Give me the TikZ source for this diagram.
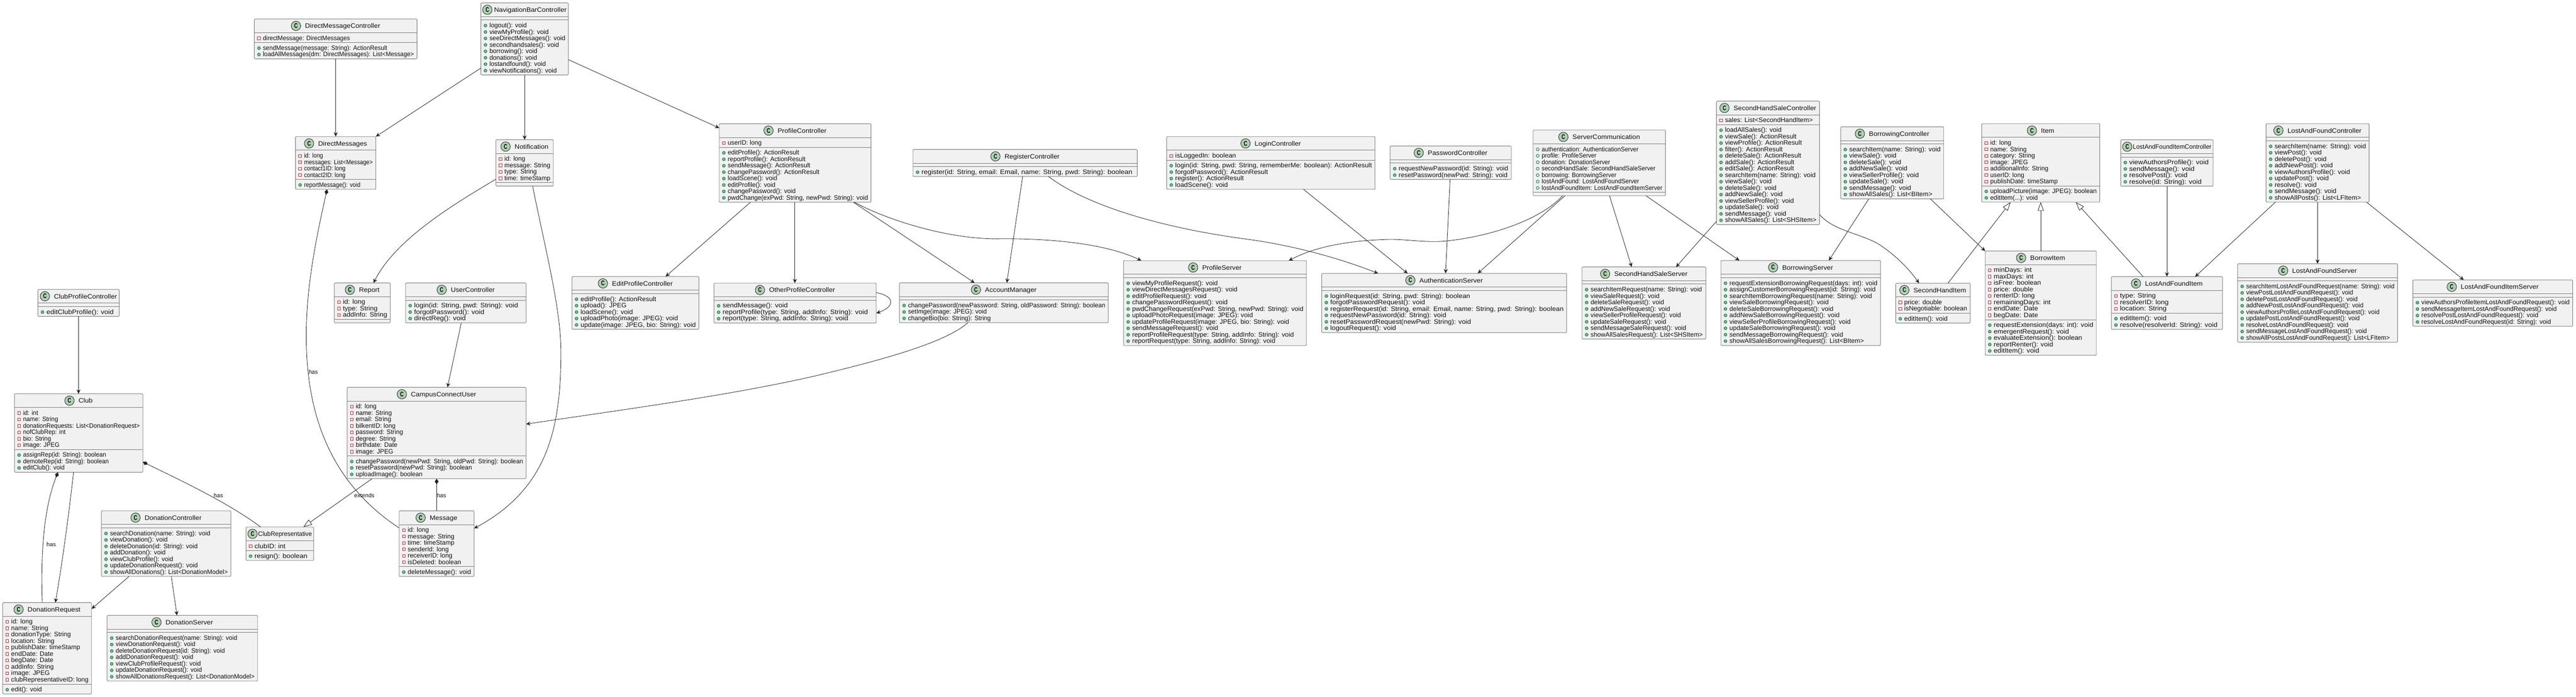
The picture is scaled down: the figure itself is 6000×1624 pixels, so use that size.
\documentclass[tikz,border=0pt]{standalone}
\usepackage{fontspec}
\usepackage{graphicx}
\setmainfont{Liberation Sans}
\usetikzlibrary{arrows.meta,calc}
\newcount\nA \newcount\nM \newcount\cA \newcount\cM
\newdimen\maxw
\newsavebox\tb
\newcommand\memf{\fontsize{7.5pt}{7.5pt}\selectfont}
\newcommand\meas[1]{\sbox\tb{\pgfinterruptpicture\memf #1\endpgfinterruptpicture}}
\newcommand\measA[1]{\advance\nA by 1 \meas{#1}\ifdim\wd\tb>\maxw\maxw=\wd\tb\fi}
\newcommand\measM[1]{\advance\nM by 1 \meas{#1}\ifdim\wd\tb>\maxw\maxw=\wd\tb\fi}
\newcommand\drawA[1]{\advance\cA by 1 \pgfmathsetmacro\yc{\yA+12.9+15*(\the\cA-1)}%
  \node[attric] (\curid-a\the\cA) at (\curx+10.7,\yc) {};%
  \node[memtxt] (\curid-at\the\cA) at (\curx+20,\yc+4.6) {\scalebox{\mS}[1]{#1}};}
\newcommand\drawM[1]{\advance\cM by 1 \pgfmathsetmacro\yc{\yM+12.9+15*(\the\cM-1)}%
  \node[pubm] (\curid-m\the\cM) at (\curx+10.7,\yc) {};%
  \node[memtxt] (\curid-mt\the\cM) at (\curx+20,\yc+4.6) {\scalebox{\mS}[1]{#1}};}
% [attr icon]{id}{x0}{x1}{y0}{title}{attrs}{methods}
\newcommand\umlc[8][privf]{%
  \nA=0 \nM=0 \cA=0 \cM=0 \maxw=0pt
  \let\Fa\measA \let\Fm\measM #7#8%
  \edef\mwd{\the\maxw}%
  \def\curid{#2}\def\curx{#3}%
  \tikzset{attric/.style={#1}}%
  \pgfmathsetmacro\bW{#4-#3}%
  \pgfmathsetmacro\hA{\the\nA*15+8}%
  \pgfmathsetmacro\hM{\the\nM*15+8}%
  \pgfmathsetmacro\bH{32+\hA+\hM}%
  \pgfmathsetmacro\cx{(#3+#4)/2}%
  \pgfmathsetmacro\cy{#5+\bH/2}%
  \pgfmathsetmacro\yA{#5+32}%
  \pgfmathsetmacro\yM{#5+32+\hA}%
  \pgfmathsetmacro\sB{32+\hA}%
  \pgfmathsetmacro\mS{min(1.08,(\bW-27)*0.5/\mwd)}%
  \node[cbox,minimum width=\bW*0.5pt,minimum height=\bH*0.5pt] (#2) at (\cx,\cy) {};%
  \draw[sepl] ([shift={(0,32)}]#2.north west) -- ([shift={(0,32)}]#2.north east);%
  \draw[sepl] ([shift={(0,\sB)}]#2.north west) -- ([shift={(0,\sB)}]#2.north east);%
  \meas{#6}\edef\twd{\the\wd\tb}%
  \pgfmathsetmacro\tw{\twd*2}%
  \pgfmathsetmacro\tS{min(1.06,(\bW-8-22.4-2)/\tw)}%
  \pgfmathsetmacro\tWs{\tw*\tS}%
  \pgfmathsetmacro\tg{max(2,min(10,\bW-8-22.4-\tWs))}%
  \pgfmathsetmacro\blk{22.4+\tg+\tWs}%
  \pgfmathsetmacro\ccx{\cx-\blk/2+11.2}%
  \node[circ] (#2-c) at (\ccx,#5+16) {\scalebox{.72}[1]{C}};%
  \node[memtxt] (#2-t) at (\ccx+11.2+\tg,#5+21.5) {\scalebox{\tS}[1]{#6}};%
  \let\Fa\drawA \let\Fm\drawM #7#8%
}
\tikzset{
  cbox/.style={draw=boxline,fill=boxfill,line width=0.55pt,rounded corners=1.25pt,inner sep=0pt,outer sep=0pt},
  sepl/.style={draw=boxline,line width=0.55pt},
  memtxt/.style={anchor=base west,inner sep=0pt,outer sep=0pt,font=\memf,text=txtc},
  circ/.style={circle,draw=lnk,fill=circf,line width=0.5pt,minimum size=11pt,inner sep=0pt,font=\fontsize{7.8pt}{7.8pt}\bfseries\selectfont},
  privf/.style={rectangle,draw=privc,fill=white,line width=0.55pt,minimum size=3.2pt,inner sep=0pt},
  pubf/.style={circle,draw=pubc,fill=boxfill,line width=0.55pt,minimum size=3.4pt,inner sep=0pt},
  pubm/.style={circle,draw=pubc,fill=pubfc,line width=0.55pt,minimum size=3.4pt,inner sep=0pt},
  conn/.style={draw=lnk,line width=0.5pt},
  dep/.style={conn,-{Stealth[length=5pt,width=4.6pt,inset=1.6pt]}},
  comp/.style={conn,{Diamond[length=6.5pt,width=4.4pt]}-},
  ext/.style={conn,-{Triangle[length=10pt,width=7pt,fill=white]}},
  lbl/.style={inner sep=0pt,font=\fontsize{6.7pt}{6.7pt}\selectfont,text=txtc},
}
\definecolor{boxline}{HTML}{7A7A7A}
\definecolor{boxfill}{HTML}{F1F1F1}
\definecolor{lnk}{HTML}{222222}
\definecolor{circf}{HTML}{ADD1B2}
\definecolor{txtc}{HTML}{111111}
\definecolor{privc}{HTML}{C82930}
\definecolor{pubc}{HTML}{038048}
\definecolor{pubfc}{HTML}{84BE84}
\begin{document}
\begin{tikzpicture}[x=0.5pt,y=-0.5pt]
\useasboundingbox (0,0) rectangle (6000,1624);

\umlc{ClubPC}{88.3}{277.6}{674.6}{ClubProfileController}{}{\Fm{editClubProfile(): void}}
\umlc{Club}{33.7}{332.7}{917.9}{Club}{\Fa{id: int}\Fa{name: String}\Fa{donationRequests: List<DonationRequest>}\Fa{nofClubRep: int}\Fa{bio: String}\Fa{image: JPEG}}{\Fm{assignRep(id: String): boolean}\Fm{demoteRep(id: String): boolean}\Fm{editClub(): void}}
\umlc{DC}{236.2}{537.8}{1190.7}{DonationController}{}{\Fm{searchDonation(name: String): void}\Fm{viewDonation(): void}\Fm{deleteDonation(id: String): void}\Fm{addDonation(): void}\Fm{viewClubProfile(): void}\Fm{updateDonationRequest(): void}\Fm{showAllDonations(): List<DonationModel>}}
\umlc{CR}{573}{730.6}{1228.5}{ClubRepresentative}{\Fa{clubID: int}}{\Fm{resign(): boolean}}
\umlc{DR}{6.1}{213.3}{1404.8}{DonationRequest}{\Fa{id: long}\Fa{name: String}\Fa{donationType: String}\Fa{location: String}\Fa{publishDate: timeStamp}\Fa{endDate: Date}\Fa{begDate: Date}\Fa{addInfo: String}\Fa{image: JPEG}\Fa{clubRepresentativeID: long}}{\Fm{edit(): void}}
\umlc{DS}{249.5}{600}{1434.6}{DonationServer}{}{\Fm{searchDonationRequest(name: String): void}\Fm{viewDonationRequest(): void}\Fm{deleteDonationRequest(id: String): void}\Fm{addDonationRequest(): void}\Fm{viewClubProfileRequest(): void}\Fm{updateDonationRequest(): void}\Fm{showAllDonationsRequest(): List<DonationModel>}}
\umlc{DMC}{592.4}{971.3}{44.3}{DirectMessageController}{\Fa{directMessage: DirectMessages}}{\Fm{sendMessage(message: String): ActionResult}\Fm{loadAllMessages(dm: DirectMessages): List<Message>}}
\umlc{NB}{1120}{1323.8}{6.7}{NavigationBarController}{}{\Fm{logout(): void}\Fm{viewMyProfile(): void}\Fm{seeDirectMessages(): void}\Fm{secondhandsales(): void}\Fm{borrowing(): void}\Fm{donations(): void}\Fm{lostandfound(): void}\Fm{viewNotifications(): void}}
\umlc{DM}{688.3}{875.4}{318.3}{DirectMessages}{\Fa{id: long}\Fa{messages: List<Message>}\Fa{contact1ID: long}\Fa{contact2ID: long}}{\Fm{reportMessage(): void}}
\umlc{Not}{1155}{1288.8}{325.7}{Notification}{\Fa{id: long}\Fa{message: String}\Fa{type: String}\Fa{time: timeStamp}}{}
\umlc{Rep}{778.6}{909}{659.6}{Report}{\Fa{id: long}\Fa{type: String}\Fa{addInfo: String}}{}
\umlc{UC}{944.7}{1225.4}{659.6}{UserController}{}{\Fm{login(id: String, pwd: String): void}\Fm{forgotPassword(): void}\Fm{directReg(): void}}
\umlc{EPC}{1332.2}{1627.8}{644.6}{EditProfileController}{}{\Fm{editProfile(): ActionResult}\Fm{upload(): JPEG}\Fm{loadScene(): void}\Fm{uploadPhoto(image: JPEG): void}\Fm{update(image: JPEG, bio: String): void}}
\umlc{CCU}{808.6}{1225.4}{902.9}{CampusConnectUser}{\Fa{id: long}\Fa{name: String}\Fa{email: String}\Fa{bilkentID: long}\Fa{password: String}\Fa{degree: String}\Fa{birthdate: Date}\Fa{image: JPEG}}{\Fm{changePassword(newPwd: String, oldPwd: String): boolean}\Fm{resetPassword(newPwd: String): boolean}\Fm{uploadImage(): boolean}}
\umlc{Msg}{929.7}{1104.2}{1190.8}{Message}{\Fa{id: long}\Fa{message: String}\Fa{time: timeStamp}\Fa{senderId: long}\Fa{receiverID: long}\Fa{isDeleted: boolean}}{\Fm{deleteMessage(): void}}
\umlc{PC}{1675.2}{2028.8}{288.4}{ProfileController}{\Fa{userID: long}}{\Fm{editProfile(): ActionResult}\Fm{reportProfile(): ActionResult}\Fm{sendMessage(): ActionResult}\Fm{changePassword(): ActionResult}\Fm{loadScene(): void}\Fm{editProfile(): void}\Fm{changePassword(): void}\Fm{pwdChange(exPwd: String, newPwd: String): void}}
\umlc{RC}{2126.4}{2648.8}{348.5}{RegisterController}{}{\Fm{register(id: String, email: Email, name: String, pwd: String): boolean}}
\umlc{OPC}{1663.1}{2040.9}{660}{OtherProfileController}{}{\Fm{sendMessage(): void}\Fm{reportProfile(type: String, addInfo: String): void}\Fm{report(type: String, addInfo: String): void}}
\umlc{AM}{2095.1}{2581.4}{659.3}{AccountManager}{}{\Fm{changePassword(newPassword: String, oldPassword: String): boolean}\Fm{setImge(image: JPEG): void}\Fm{changeBio(bio: String): String}}
\umlc{PS}{2617}{3042.9}{607.5}{ProfileServer}{}{\Fm{viewMyProfileRequest(): void}\Fm{viewDirectMessagesRequest(): void}\Fm{editProfileRequest(): void}\Fm{changePasswordRequest(): void}\Fm{pwdChangeRequest(exPwd: String, newPwd: String): void}\Fm{uploadPhotoRequest(image: JPEG): void}\Fm{updateProfileRequest(image: JPEG, bio: String): void}\Fm{sendMessageRequest(): void}\Fm{reportProfileRequest(type: String, addInfo: String): void}\Fm{reportRequest(type: String, addInfo: String): void}}
\umlc{LC}{2717.4}{3202.6}{318.3}{LoginController}{\Fa{isLoggedIn: boolean}}{\Fm{login(id: String, pwd: String, rememberMe: boolean): ActionResult}\Fm{forgotPassword(): ActionResult}\Fm{register(): ActionResult}\Fm{loadScene(): void}}
\umlc{PWC}{3237.8}{3519.9}{340.3}{PasswordController}{}{\Fm{requestNewPassword(id: String): void}\Fm{resetPassword(newPwd: String): void}}
\umlc[pubf]{SC}{3570.9}{3879.1}{303.3}{ServerCommunication}{\Fa{authentication: AuthenticationServer}\Fa{profile: ProfileServer}\Fa{donation: DonationServer}\Fa{secondHandSale: SecondHandSaleServer}\Fa{borrowing: BorrowingServer}\Fa{lostAndFound: LostAndFoundServer}\Fa{lostAndFoundItem: LostAndFoundItemServer}}{}
\umlc{AS}{3078.6}{3649}{637.3}{AuthenticationServer}{}{\Fm{loginRequest(id: String, pwd: String): boolean}\Fm{forgotPasswordRequest(): void}\Fm{registerRequest(id: String, email: Email, name: String, pwd: String): boolean}\Fm{requestNewPassword(id: String): void}\Fm{resetPasswordRequest(newPwd: String): void}\Fm{logoutRequest(): void}}
\umlc{SHS}{3684.8}{3973.2}{622.3}{SecondHandSaleServer}{}{\Fm{searchItemRequest(name: String): void}\Fm{viewSaleRequest(): void}\Fm{deleteSaleRequest(): void}\Fm{addNewSaleRequest(): void}\Fm{viewSellerProfileRequest(): void}\Fm{updateSaleRequest(): void}\Fm{sendMessageSaleRequest(): void}\Fm{showAllSalesRequest(): List<SHSItem>}}
\umlc{BS}{4008.2}{4380}{607.3}{BorrowingServer}{}{\Fm{requestExtensionBorrowingRequest(days: int): void}\Fm{assignCustomerBorrowingRequest(id: String): void}\Fm{searchItemBorrowingRequest(name: String): void}\Fm{viewSaleBorrowingRequest(): void}\Fm{deleteSaleBorrowingRequest(): void}\Fm{addNewSaleBorrowingRequest(): void}\Fm{viewSellerProfileBorrowingRequest(): void}\Fm{updateSaleBorrowingRequest(): void}\Fm{sendMessageBorrowingRequest(): void}\Fm{showAllSalesBorrowingRequest(): List<BItem>}}
\umlc{SHC}{3997.9}{4237.9}{235.7}{SecondHandSaleController}{\Fa{sales: List<SecondHandItem>}}{\Fm{loadAllSales(): void}\Fm{viewSale(): ActionResult}\Fm{viewProfile(): ActionResult}\Fm{filter(): ActionResult}\Fm{deleteSale(): ActionResult}\Fm{addSale(): ActionResult}\Fm{editSale(): ActionResult}\Fm{searchItem(name: String): void}\Fm{viewSale(): void}\Fm{deleteSale(): void}\Fm{addNewSale(): void}\Fm{viewSellerProfile(): void}\Fm{updateSale(): void}\Fm{sendMessage(): void}\Fm{showAllSales(): List<SHSItem>}}
\umlc{BC}{4287.3}{4527.2}{295.7}{BorrowingController}{}{\Fm{searchItem(name: String): void}\Fm{viewSale(): void}\Fm{deleteSale(): void}\Fm{addNewSale(): void}\Fm{viewSellerProfile(): void}\Fm{updateSale(): void}\Fm{sendMessage(): void}\Fm{showAllSales(): List<BItem>}}
\umlc{SHI}{4415.4}{4588.8}{660.2}{SecondHandItem}{\Fa{price: double}\Fa{isNegotiable: boolean}}{\Fm{editItem(): void}}
\umlc{IT}{4615.7}{4890.7}{288.3}{Item}{\Fa{id: long}\Fa{name: String}\Fa{category: String}\Fa{image: JPEG}\Fa{additionalInfo: String}\Fa{userID: long}\Fa{publishDate: timeStamp}}{\Fm{uploadPicture(image: JPEG): boolean}\Fm{editItem(...): void}}
\umlc{BI}{4623.8}{4882.7}{585.2}{BorrowItem}{\Fa{minDays: int}\Fa{maxDays: int}\Fa{isFree: boolean}\Fa{price: double}\Fa{renterID: long}\Fa{remainingDays: int}\Fa{endDate: Date}\Fa{begDate: Date}}{\Fm{requestExtension(days: int): void}\Fm{emergentRequest(): void}\Fm{evaluateExtension(): boolean}\Fm{reportRenter(): void}\Fm{editItem(): void}}
\umlc{LFIC}{4939.5}{5154.8}{326}{LostAndFoundItemController}{}{\Fm{viewAuthorsProfile(): void}\Fm{sendMessage(): void}\Fm{resolvePost(): void}\Fm{resolve(id: String): void}}
\umlc{LFI}{4917.7}{5176.6}{644.9}{LostAndFoundItem}{\Fa{type: String}\Fa{resolverID: long}\Fa{location: String}}{\Fm{editItem(): void}\Fm{resolve(resolverId: String): void}}
\umlc{LFC}{5278}{5517.9}{288.3}{LostAndFoundController}{}{\Fm{searchItem(name: String): void}\Fm{viewPost(): void}\Fm{deletePost(): void}\Fm{addNewPost(): void}\Fm{viewAuthorsProfile(): void}\Fm{updatePost(): void}\Fm{resolve(): void}\Fm{sendMessage(): void}\Fm{showAllPosts(): List<LFItem>}}
\umlc{LFS}{5211.7}{5584.2}{614.8}{LostAndFoundServer}{}{\Fm{searchItemLostAndFoundRequest(name: String): void}\Fm{viewPostLostAndFoundRequest(): void}\Fm{deletePostLostAndFoundRequest(): void}\Fm{addNewPostLostAndFoundRequest(): void}\Fm{viewAuthorsProfileLostAndFoundRequest(): void}\Fm{updatePostLostAndFoundRequest(): void}\Fm{resolveLostAndFoundRequest(): void}\Fm{sendMessageLostAndFoundRequest(): void}\Fm{showAllPostsLostAndFoundRequest(): List<LFItem>}}
\umlc{LFIS}{5619.9}{5992.3}{652.6}{LostAndFoundItemServer}{}{\Fm{viewAuthorsProfileItemLostAndFoundRequest(): void}\Fm{sendMessageItemLostAndFoundRequest(): void}\Fm{resolvePostLostAndFoundRequest(): void}\Fm{resolveLostAndFoundRequest(id: String): void}}

% connectors
\draw[dep] (ClubPC.south) -- (ClubPC.south |- Club.north);
\draw[dep] ([shift={(64.3,0)}]DC.south west) -- ([shift={(0,14.6)}]DR.north east);
\draw[dep] ([shift={(162.8,0)}]DC.south west) -- ([shift={(162.7,0)}]DS.north west);
\draw[dep] ([shift={(137.7,0)}]Club.south west) .. controls (160,1200) and (147,1300) .. ([shift={(122.9,0)}]DR.north west);
\draw[comp] ([shift={(101.3,0)}]Club.south west) .. controls (100,1190) and (95,1300) .. ([shift={(92.4,0)}]DR.north west);
\draw[comp] ([shift={(0,158.9)}]Club.north east) .. controls (400,1110) and (530,1170) .. ([shift={(34,0)}]CR.north west);
\draw[ext] ([shift={(57.9,0)}]CCU.south west) -- ([shift={(133.6,0)}]CR.north west);
\draw[dep] ([shift={(189.5,0)}]DMC.south west) -- ([shift={(93.6,0)}]DM.north west);
\draw[dep] ([shift={(0,152)}]NB.north west) -- (DM.north east);
\draw[dep] (NB.south) -- (NB.south |- Not.north);
\draw[dep] ([shift={(0,132.3)}]NB.north east) -- ([shift={(0,10)}]PC.north west);
\draw[dep] ([shift={(0,92)}]Not.north west) .. controls (1050,480) and (920,560) .. ([shift={(91.4,0)}]Rep.north west);
\draw[dep] ([shift={(85.5,0)}]Not.south west) .. controls (1272,590) and (1306.5,720) .. (1306.5,821) .. controls (1306.5,1000) and (1275,1140) .. ([shift={(0,41)}]Msg.north east);
\draw[comp] ([shift={(73.5,0)}]DM.south west) .. controls (740,540) and (713.3,660) .. (713.3,782.9) .. controls (713.3,960) and (765,1122) .. ([shift={(0,39.9)}]Msg.north west);
\draw[dep] ([shift={(129.7,0)}]UC.south west) -- ([shift={(233.7,0)}]CCU.north west);
\draw[dep] ([shift={(159.3,0)}]AM.south west) .. controls (2200,800) and (2050,840) .. (1900,876) .. controls (1700,922) and (1450,955) .. ([shift={(0,85.7)}]CCU.north east);
\draw[comp] (CCU.south) -- (CCU.south |- Msg.north);
\draw[dep] ([shift={(72.8,0)}]PC.south west) -- ([shift={(218.1,0)}]EPC.north west);
\draw[dep] ([shift={(176.2,0)}]PC.south west) -- ([shift={(188.3,0)}]OPC.north west);
\draw[dep] ([shift={(312.3,0)}]PC.south west) -- ([shift={(174.8,0)}]AM.north west);
\draw[dep] ([shift={(315.2,0)}]PC.south west) .. controls (2060,510) and (2200,556) .. (2317.6,556.7) .. controls (2430,555) and (2570,565) .. ([shift={(41.3,0)}]PS.north west);
\draw[dep] ([shift={(255.5,0)}]RC.south west) -- ([shift={(250,0)}]AM.north west);
\draw[dep] ([shift={(315.7,0)}]RC.south west) .. controls (2530,478) and (2700,530) .. (2900,557) .. controls (3000,570) and (3110,598) .. ([shift={(131.2,0)}]AS.north west);
\draw[dep] ([shift={(318.6,0)}]LC.south west) -- ([shift={(200,0)}]AS.north west);
\draw[dep] ([shift={(139.7,0)}]PWC.south west) -- ([shift={(288.4,0)}]AS.north west);
\draw[dep] ([shift={(74.1,0)}]SC.south west) -- ([shift={(363.4,0)}]AS.north west);
\draw[dep] ([shift={(177.9,0)}]SC.south west) -- ([shift={(115.7,0)}]SHS.north west);
\draw[dep] ([shift={(262.9,0)}]SC.south west) -- ([shift={(43.1,0)}]BS.north west);
\draw[dep] ([shift={(68.9,0)}]SC.south west) .. controls (3590,510) and (3480,550) .. (3369,561.7) .. controls (3320,567) and (3270,556) .. (3226.5,558.3) .. controls (3150,561) and (3070,572) .. ([shift={(384.7,0)}]PS.north west);
\draw[dep] ([shift={(0,280.3)}]SHC.north west) -- ([shift={(219,0)}]SHS.north west);
\draw[dep] ([shift={(0,264.3)}]SHC.north east) .. controls (4270,537) and (4325,542) .. (4371.6,566.7) .. controls (4410,590) and (4445,625) .. ([shift={(54.5,0)}]SHI.north west);
\draw[dep] ([shift={(65.4,0)}]BC.south west) -- ([shift={(251.5,0)}]BS.north west);
\draw[dep] ([shift={(208.9,0)}]BC.south west) -- (BI.north west);
\draw[ext] ([shift={(121.7,0)}]SHI.north west) -- ([shift={(67.2,0)}]IT.south west);
\draw[ext] (BI.north) -- (BI.north |- IT.south);
\draw[ext] ([shift={(74,0)}]LFI.north west) -- ([shift={(219.3,0)}]IT.south west);
\draw[dep] (LFIC.south) -- (LFIC.south |- LFI.north);
\draw[dep] ([shift={(21.7,0)}]LFC.south west) -- ([shift={(195.2,0)}]LFI.north west);
\draw[dep] (LFC.south) -- (LFC.south |- LFS.north);
\draw[dep] ([shift={(234.1,0)}]LFC.south west) -- ([shift={(118.6,0)}]LFIS.north west);
\draw[dep] ([shift={(0,22.2)}]OPC.north east) .. controls (2085,690) and (2085,715) .. ([shift={(0,70)}]OPC.north east);

\node[lbl] (lblA) at (119.4,1268.4) {has};
\node[lbl] (lblB) at (508.7,1154.6) {has};
\node[lbl] (lblC) at (848.7,1154.7) {extends};
\node[lbl] (lblD) at (729.6,866.8) {has};
\node[lbl] (lblE) at (1028.4,1154.7) {has};
\end{tikzpicture}
\end{document}
